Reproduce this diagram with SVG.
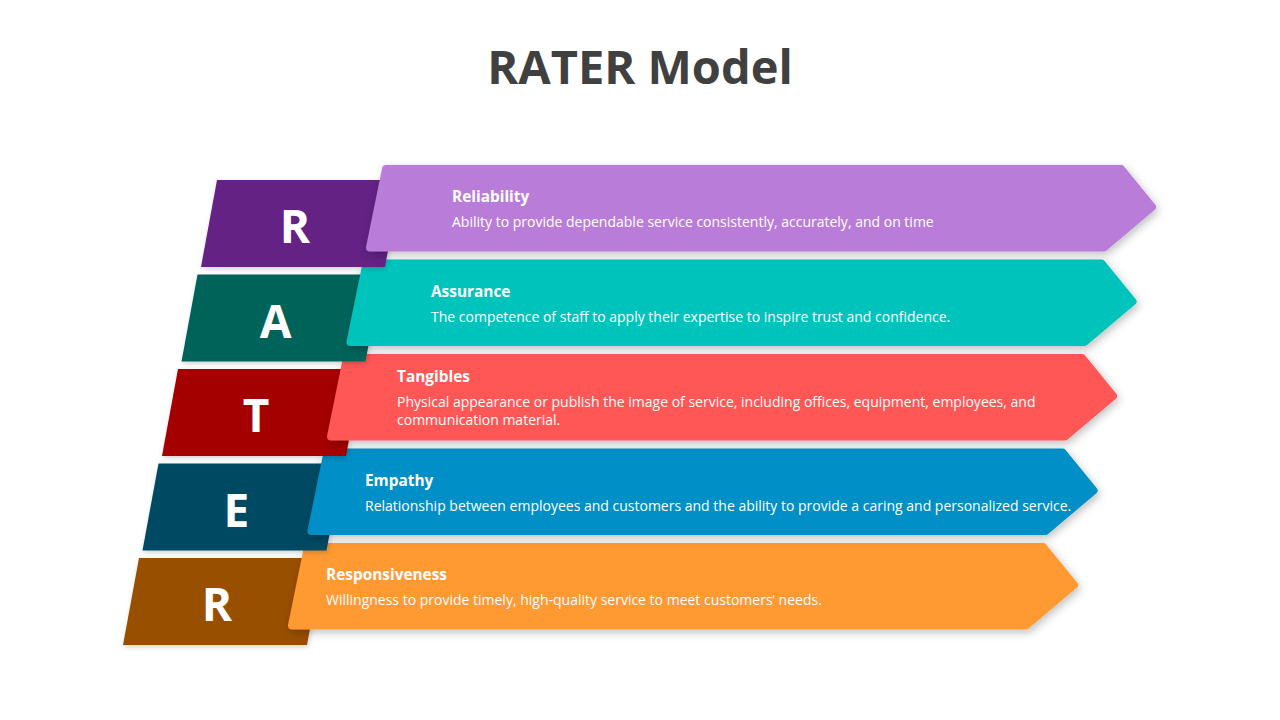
<svg xmlns="http://www.w3.org/2000/svg" width="1280" height="720" viewBox="0 0 1280 720">
  <defs>
    <filter id="sh" x="-10%" y="-30%" width="120%" height="160%">
      <feDropShadow dx="2" dy="3" stdDeviation="4" flood-color="#000" flood-opacity="0.25"/>
    </filter>
    <filter id="sh2" x="-10%" y="-30%" width="120%" height="160%">
      <feDropShadow dx="1" dy="2" stdDeviation="2.5" flood-color="#000" flood-opacity="0.18"/>
    </filter>
  </defs>
  <style>
    .title { font-family: "Open Sans", "Liberation Sans", sans-serif; font-weight: 700; font-size: 47px; fill: #404040; }
    .letter { font-family: "Open Sans", "Liberation Sans", sans-serif; font-weight: 700; font-size: 46px; fill: #ffffff; text-anchor: middle; }
    .h { font-family: "Open Sans", "Liberation Sans", sans-serif; font-weight: 700; font-size: 15.4px; fill: #ffffff; }
    .d { font-family: "Open Sans", "Liberation Sans", sans-serif; font-size: 14px; fill: #ffffff; }
    .arrow { stroke-width: 8; stroke-linejoin: round; filter: url(#sh); }
    .block { filter: url(#sh2); }
  </style>
  <rect width="1280" height="720" fill="#ffffff"/>
  <text class="title" x="640" y="84" text-anchor="middle">RATER Model</text>

  <!-- Row 5: Responsiveness -->
  <g id="row5" transform="translate(-78,378)">
    <polygon class="block" points="217,180 401,180 385,267 201,267" fill="#994F00"/>
    <text class="letter" x="295" y="243">R</text>
    <polygon class="arrow" points="386,169 1121,169 1152,207 1104,247.5 370,247.5" fill="#FF9933" stroke="#FF9933"/>
  </g>
  <!-- Row 4: Empathy -->
  <g id="row4" transform="translate(-58.5,283.5)">
    <polygon class="block" points="217,180 401,180 385,267 201,267" fill="#004864"/>
    <text class="letter" x="295" y="243">E</text>
    <polygon class="arrow" points="386,169 1121,169 1152,207 1104,247.5 370,247.5" fill="#008FC6" stroke="#008FC6"/>
  </g>
  <!-- Row 3: Tangibles -->
  <g id="row3" transform="translate(-39,189)">
    <polygon class="block" points="217,180 401,180 385,267 201,267" fill="#A50000"/>
    <text class="letter" x="295" y="243">T</text>
    <polygon class="arrow" points="386,169 1121,169 1152,207 1104,247.5 370,247.5" fill="#FF5757" stroke="#FF5757"/>
  </g>
  <!-- Row 2: Assurance -->
  <g id="row2" transform="translate(-19.5,94.5)">
    <polygon class="block" points="217,180 401,180 385,267 201,267" fill="#00635A"/>
    <text class="letter" x="295" y="243">A</text>
    <polygon class="arrow" points="386,169 1121,169 1152,207 1104,247.5 370,247.5" fill="#00C4BC" stroke="#00C4BC"/>
  </g>
  <!-- Row 1: Reliability -->
  <g id="row1">
    <polygon class="block" points="217,180 401,180 385,267 201,267" fill="#642484"/>
    <text class="letter" x="295" y="243">R</text>
    <polygon class="arrow" points="386,169 1121,169 1152,207 1104,247.5 370,247.5" fill="#B97DD9" stroke="#B97DD9"/>
  </g>

  <g id="labels">
    <text class="h" x="452" y="202">Reliability</text>
    <text class="d" x="452" y="227">Ability to provide dependable service consistently, accurately, and on time</text>
    <text class="h" x="431" y="297">Assurance</text>
    <text class="d" x="431" y="322">The competence of staff to apply their expertise to inspire trust and confidence.</text>
    <text class="h" x="397" y="382">Tangibles</text>
    <text class="d" x="397" y="407">Physical appearance or publish the image of service, including offices, equipment, employees, and</text>
    <text class="d" x="397" y="425">communication material.</text>
    <text class="h" x="365" y="486">Empathy</text>
    <text class="d" x="365" y="511">Relationship between employees and customers and the ability to provide a caring and personalized service.</text>
    <text class="h" x="326" y="580">Responsiveness</text>
    <text class="d" x="326" y="605">Willingness to provide timely, high-quality service to meet customers’ needs.</text>
  </g>
</svg>
